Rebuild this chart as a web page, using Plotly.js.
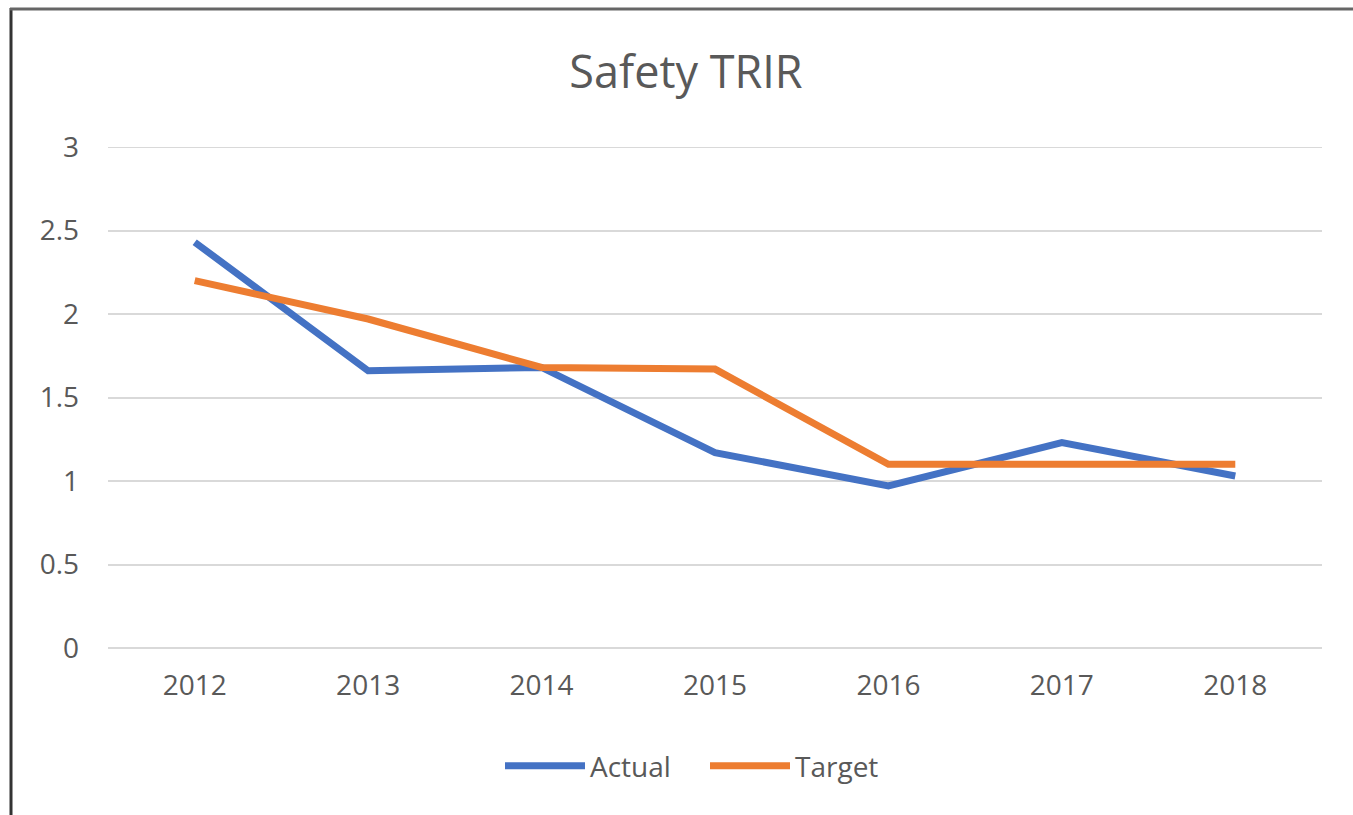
<!DOCTYPE html>
<html>
<head>
<meta charset="utf-8">
<script src="https://cdn.plot.ly/plotly-3.0.1.min.js"></script>
<style>
html,body{margin:0;padding:0;background:#fff;}
#chart{width:1353px;height:815px;}
</style>
</head>
<body>
<div id="chart"></div>
<script>
const years = ['2012','2013','2014','2015','2016','2017','2018'];
const actual = [2.43, 1.66, 1.68, 1.17, 0.97, 1.23, 1.03];
const target = [2.20, 1.97, 1.68, 1.67, 1.10, 1.10, 1.10];
const yTicks = [0, 0.5, 1, 1.5, 2, 2.5, 3];
const yTickText = ['0', '0.5', '1', '1.5', '2', '2.5', '3'];

const W = 1353, H = 815;
const mL = 108, mR = 31, mT = 147, mB = 167;
const pw = W - mL - mR, ph = H - mT - mB;
const px = x => (x - mL) / pw;
const py = y => (H - mB - y) / ph;

const font = 'Open Sans, Liberation Sans, sans-serif';
const traces = [
  {x: years, y: actual, name: 'Actual', type: 'scatter', mode: 'lines',
   line: {color: '#4472C4', width: 7}},
  {x: years, y: target, name: 'Target', type: 'scatter', mode: 'lines',
   line: {color: '#ED7D31', width: 7}}
];
const yTop = yTicks[yTicks.length - 1];
const layout = {
  width: W, height: H,
  margin: {l: mL, r: mR, t: mT, b: mB, pad: 0},
  paper_bgcolor: '#ffffff', plot_bgcolor: '#ffffff',
  font: {family: font, color: '#595959', size: 28},
  title: {text: 'Safety TRIR', font: {family: font, size: 45, color: '#595959'},
          x: 686 / W, xref: 'container', xanchor: 'center',
          y: 1 - 72 / H, yref: 'container', yanchor: 'middle'},
  xaxis: {type: 'category', range: [-0.5, 6.5], showgrid: false, zeroline: false,
          showline: false, ticks: '', tickfont: {size: 28, color: '#595959'},
          ticklabelstandoff: 18, fixedrange: true},
  yaxis: {range: [0, yTop], tickvals: yTicks, ticktext: yTickText, showgrid: true,
          gridcolor: '#d9d9d9', gridwidth: 2, zeroline: true, zerolinecolor: '#d9d9d9',
          zerolinewidth: 2, showline: false, ticks: '', tickfont: {size: 28, color: '#595959'},
          ticklabelstandoff: 28, fixedrange: true},
  showlegend: true,
  legend: {orientation: 'h', x: px(500), xanchor: 'left', y: py(766), yanchor: 'middle',
           font: {size: 28, color: '#595959'}, itemwidth: 80, tracegroupgap: 0,
           entrywidth: 110, entrywidthmode: 'pixels',
           bgcolor: 'rgba(0,0,0,0)'},
  shapes: [
    {type: 'line', xref: 'paper', yref: 'y', x0: 0, x1: 1, y0: yTop, y1: yTop,
     layer: 'below', line: {color: '#d9d9d9', width: 2}},
    {type: 'line', xref: 'paper', yref: 'paper', x0: px(11), x1: px(11), y0: py(8), y1: py(H + 5),
     line: {color: '#333333', width: 3}},
    {type: 'line', xref: 'paper', yref: 'paper', x0: px(10), x1: px(W + 5), y0: py(9), y1: py(9),
     line: {color: '#666666', width: 3}}
  ]
};
Plotly.newPlot('chart', traces, layout, {displayModeBar: false, staticPlot: true});
</script>
</body>
</html>
